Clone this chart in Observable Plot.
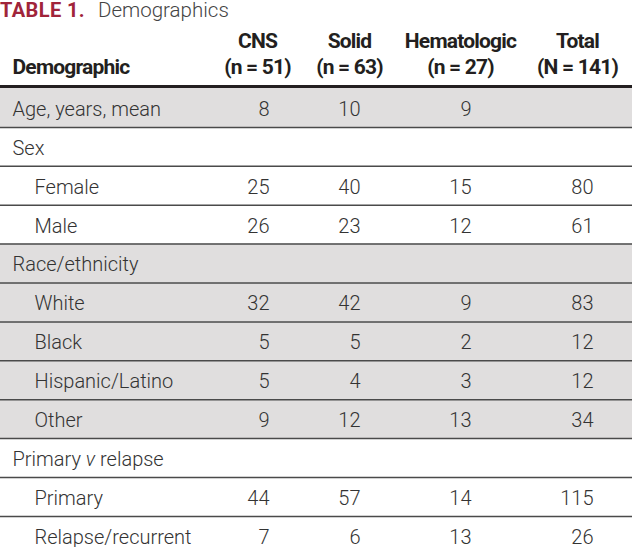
<!DOCTYPE html>
<html><head><meta charset="utf-8">
<script src="https://cdn.jsdelivr.net/npm/d3@7"></script>
<script src="https://cdn.jsdelivr.net/npm/@observablehq/plot@0.6"></script>
<style>
html,body{margin:0;padding:0;background:#fff;}
#title{position:relative;height:26px;white-space:nowrap;}
#title .t1{position:absolute;left:0;top:0;font-family:Roboto,sans-serif;font-weight:bold;font-size:20px;line-height:20px;letter-spacing:0.4px;color:#a0243a;}
#title .t2{position:absolute;left:98px;top:0;font-family:Roboto,sans-serif;font-weight:300;font-size:20.5px;line-height:20.5px;color:#444;}
#chart svg{display:block;}
</style></head><body>
<div id="title"><span class="t1">TABLE 1.</span><span class="t2">Demographics</span></div>
<div id="chart"></div>
<script>
// ---- data ----
const rowHeader = "Demographic";
const columnKeys = ["CNS", "Solid", "Hematologic", "Total"];
const columnHeaders = ["CNS\n(n = 51)", "Solid\n(n = 63)", "Hematologic\n(n = 27)", "Total\n(N = 141)"];
const rowLabels = ["Age, years, mean", "Sex", "Female", "Male", "Race/ethnicity", "White", "Black", "Hispanic/Latino", "Other", "Primary v relapse", "Primary", "Relapse/recurrent"];
const rowIndent = [0, 0, 1, 1, 0, 1, 1, 1, 1, 0, 1, 1];
const rowGroup = [0, 1, 1, 1, 2, 2, 2, 2, 2, 3, 3, 3];
const cnsValues = [8, null, 25, 26, null, 32, 5, 5, 9, null, 44, 7];
const solidValues = [10, null, 40, 23, null, 42, 5, 4, 12, null, 57, 6];
const hematologicValues = [9, null, 15, 12, null, 9, 2, 3, 13, null, 14, 13];
const totalValues = [null, null, 80, 61, null, 83, 12, 12, 34, null, 115, 26];

// ---- layout ----
const W = 632, H = 521;
const rowH = 38.9, firstRowTop = 62;
const labelX = [12, 34];
const colCenter = [257, 349, 460, 577];
const colRight = [269, 360, 471, 593];
const headerFont = "Roboto, sans-serif";
const bodyFont = "Roboto, sans-serif";

const seriesByCol = [cnsValues, solidValues, hematologicValues, totalValues];
const rows = rowLabels.map((label, i) => ({i, label, indent: rowIndent[i], group: rowGroup[i]}));
const cells = [];
seriesByCol.forEach((vals, c) => vals.forEach((v, i) => { if (v != null) cells.push({i, c, v}); }));
const headers = columnHeaders.map((t, c) => ({t, c}));

const chart = Plot.plot({
  width: W, height: H, margin: 0,
  x: {domain: [0, W], range: [0, W], axis: null},
  y: {domain: [-firstRowTop / rowH, (H - firstRowTop) / rowH], range: [0, H], axis: null},
  marks: [
    Plot.rect(rows.filter(d => d.group % 2 === 0), {x1: 0, x2: W, y1: d => d.i, y2: d => d.i + 1, fill: "#e0dede"}),
    Plot.ruleY(rows.slice(1), {y: d => d.i, stroke: "#4a4a4a", strokeWidth: 1.5}),
    Plot.ruleY([0], {stroke: "#231f20", strokeWidth: 3, dy: -2}),
    Plot.text([rowHeader], {x: labelX[0], y: -0.37, text: d => d, textAnchor: "start", lineAnchor: "bottom",
      fontFamily: headerFont, fontWeight: "bold", fontSize: 21, fill: "#231f20"}),
    Plot.text(headers, {x: d => colCenter[d.c], y: -0.37, text: "t", textAnchor: "middle", lineAnchor: "bottom", lineHeight: 1.24,
      fontFamily: headerFont, fontWeight: "bold", fontSize: 21, fill: "#231f20"}),
    Plot.text(rows, {x: d => labelX[d.indent], y: d => d.i + 0.5, text: "label", textAnchor: "start", lineAnchor: "middle", dy: 1.5,
      fontFamily: bodyFont, fontWeight: 300, fontSize: 20, fill: "#333"}),
    Plot.text(cells, {x: d => colRight[d.c], y: d => d.i + 0.5, text: d => String(d.v), textAnchor: "end", lineAnchor: "middle", dy: 1.5,
      fontFamily: bodyFont, fontWeight: 300, fontSize: 20, fill: "#333"})
  ]
});
document.getElementById("chart").appendChild(chart);

// condensed look for bold header text
chart.querySelectorAll('g[font-weight="bold"]').forEach(g => g.style.letterSpacing = "-0.8px");

// italic "v" in "Primary v relapse"
chart.querySelectorAll("text").forEach(el => {
  if (el.textContent === "Primary v relapse") {
    el.textContent = "";
    const ns = "http://www.w3.org/2000/svg";
    [["Primary ", null], ["v", "italic"], [" relapse", null]].forEach(([s, st]) => {
      const t = document.createElementNS(ns, "tspan");
      t.textContent = s;
      if (st) t.setAttribute("font-style", st);
      el.appendChild(t);
    });
  }
});
</script>
</body></html>
